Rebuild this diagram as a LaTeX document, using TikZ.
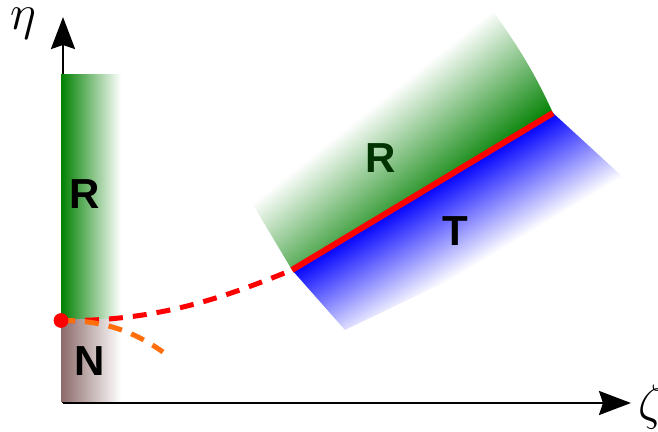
\documentclass[tikz,border=0pt]{standalone}
\usepackage{fontspec}
\setsansfont{Liberation Sans}
\usepackage{xcolor}
\usepackage{tikz}
\usetikzlibrary{positioning, arrows.meta}

\definecolor{rgreen}{RGB}{0,128,0}
\definecolor{nbrown}{RGB}{140,106,106}
\definecolor{dorange}{RGB}{255,110,10}

\begin{document}
\begin{tikzpicture}[
  x=0.5pt, y=-0.5pt,
  axis/.style={line width=1.25pt, -{Stealth[length=16pt, width=12pt, inset=2pt]}},
  lbl/.style={font=\sffamily\bfseries\fontsize{21}{21}\selectfont, inner sep=0pt},
  symb/.style={font=\fontsize{24}{24}\selectfont, inner sep=0pt},
  front/.style={line width=2.5pt, dash pattern=on 7pt off 5pt},
  interface/.style={red, line width=3pt}
]
  \useasboundingbox (0,0) rectangle (658,432);

  % --- key points ---
  \coordinate (O)   at (63,403);
  \coordinate (etaTip)  at (63,17);
  \coordinate (zetaTip) at (631,403);
  \coordinate (tri) at (61,320.5);
  \coordinate (A)   at (292,270);
  \coordinate (B)   at (553,113);
  \coordinate (C)   at (492,10);
  \coordinate (W)   at (252,203);
  \coordinate (Bq)  at (637,190);
  \coordinate (Lq)  at (345,330);
  \coordinate (oEnd) at (163,352);

  % --- axes ---
  \draw[axis] (O) -- (etaTip);
  \draw[axis] (O) -- (zetaTip);
  \node[symb] (eta)  at (23,24)  {$\eta$};
  \node[symb] (zeta) at (651,407) {$\zeta$};

  % --- strip on the eta axis ---
  \fill[left color=rgreen, right color=white] (61,75) rectangle (121,320);
  \fill[left color=nbrown, right color=white] (61,320) rectangle (121,401.5);
  \node[lbl] (Rl) at (85,194) {R};
  \node[lbl] (Nl) at (90,361) {N};

  % --- reflected region, fading away from the interface ---
  \begin{scope}
    \clip (A) -- (B) .. controls (540,85) and (525,55) .. (C) -- (W) -- cycle;
    \begin{scope}[transform canvas={shift={(W)}, rotate=38.8}]
      \shade[top color=white, bottom color=rgreen] (-60,0) rectangle (380,118.6);
    \end{scope}
  \end{scope}

  % --- transmitted region ---
  \begin{scope}
    \clip (A) -- (B) -- (Bq) -- (Lq) -- cycle;
    \begin{scope}[transform canvas={shift={(A)}, rotate=31.03}]
      \shade[top color=blue, bottom color=white] (-60,0) rectangle (400,90);
    \end{scope}
  \end{scope}

  \draw[interface] (A) -- (B);
  \node[lbl, text=green!20!black] (Rr) at (381,158) {R};
  \node[lbl] (Tr) at (455,231) {T};

  % --- fronts from the triple point ---
  \draw[front, red] (tri) .. controls (160,322) and (230,295) .. (A);
  \draw[front, dorange] (tri) .. controls (110,320) and (140,336) .. (oEnd);
  \fill[red] (tri) circle[radius=3.7pt];
\end{tikzpicture}
\end{document}
